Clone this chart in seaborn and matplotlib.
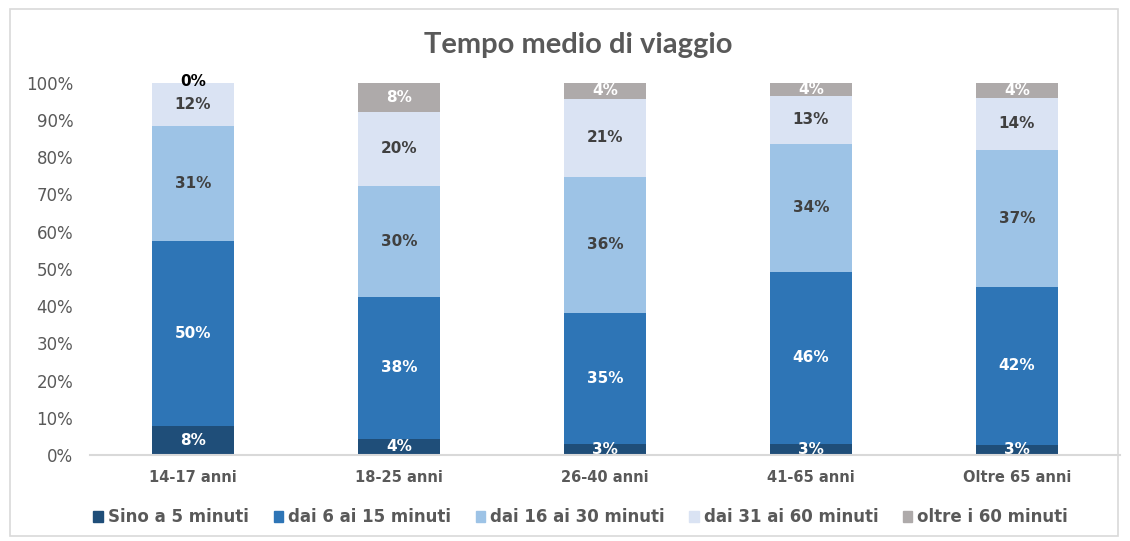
import numpy as np
import pandas as pd
import matplotlib
matplotlib.use("Agg")
import matplotlib.pyplot as plt
import matplotlib.patches as mpatches
import seaborn as sns

# dati (percentuali per fascia d'eta')
gruppi = ["14-17 anni", "18-25 anni", "26-40 anni", "41-65 anni", "Oltre 65 anni"]
fasce = ["Sino a 5 minuti", "dai 6 ai 15 minuti", "dai 16 ai 30 minuti",
         "dai 31 ai 60 minuti", "oltre i 60 minuti"]
sino_5 = [7.8, 4.3, 3.0, 3.0, 2.8]
da_6_15 = [49.7, 38.2, 35.2, 46.2, 42.4]
da_16_30 = [30.9, 29.8, 36.5, 34.4, 36.8]
da_31_60 = [11.6, 19.9, 21.0, 12.9, 14.0]
oltre_60 = [0.0, 7.8, 4.3, 3.5, 4.0]

colori = ["#1F4E79", "#2E75B6", "#9DC3E6", "#DAE3F3", "#AEAAAA"]
col_testo = ["white", "white", "#404040", "#404040", "white"]

df = pd.DataFrame({"gruppo": gruppi, fasce[0]: sino_5, fasce[1]: da_6_15,
                   fasce[2]: da_16_30, fasce[3]: da_31_60, fasce[4]: oltre_60})
cum = df[fasce].cumsum(axis=1)

sns.set_style("white")
plt.rcParams["font.family"] = ["DejaVu Sans"]
fig = plt.figure(figsize=(11.3, 5.41), dpi=100)
ax = fig.add_axes([0.0796, 0.159, 0.9115, 0.688])

# barre sovrapposte dal totale verso il basso -> effetto impilato
for i in range(len(fasce) - 1, -1, -1):
    sns.barplot(x=df["gruppo"], y=cum[fasce[i]], color=colori[i], width=0.4,
                saturation=1, ax=ax, edgecolor="none", linewidth=0, zorder=2)

# etichette dei valori
for j in range(len(gruppi)):
    for i, f in enumerate(fasce):
        v = df.loc[j, f]
        top = cum.loc[j, f]
        if v == 0:
            ax.text(j, top + 0.3, "0%", ha="center", va="center", color="black",
                    fontsize=11, fontweight="bold", clip_on=False, zorder=5)
            continue
        ax.text(j, top - v / 2, f"{v:.0f}%", ha="center", va="center",
                color=col_testo[i], fontsize=11, fontweight="bold", zorder=5)

ax.set_xlim(-0.5, 4.5)
ax.set_ylim(0, 100)
ax.set_yticks(np.arange(0, 101, 10))
ax.set_yticklabels([f"{t}%" for t in range(0, 101, 10)])
ax.set_xlabel("")
ax.set_ylabel("")
ax.tick_params(axis="y", length=0, pad=12, labelsize=12, labelcolor="#595959")
ax.tick_params(axis="x", length=0, pad=11, labelsize=10.5, labelcolor="#595959")
for lab in ax.get_xticklabels():
    lab.set_fontweight("bold")
for s in ["top", "right", "left"]:
    ax.spines[s].set_visible(False)
ax.spines["bottom"].set_color("#D9D9D9")
ax.spines["bottom"].set_linewidth(1.5)
ax.spines["bottom"].set_zorder(6)

fig.text(0.512, 0.917, "Tempo medio di viaggio", ha="center", va="center",
         fontsize=21, fontweight="bold", color="#595959", family="Lato")

handles = [mpatches.Patch(color=c, label=f) for c, f in zip(colori, fasce)]
leg = fig.legend(handles=handles, loc="center", bbox_to_anchor=(0.514, 0.044),
                 ncol=5, frameon=False, handlelength=0.55, handleheight=0.65,
                 handletextpad=0.3, columnspacing=1.5,
                 prop={"size": 12, "weight": "bold"})
for t in leg.get_texts():
    t.set_color("#595959")

# cornice esterna del grafico
fig.patches.append(mpatches.Rectangle((10 / 1130, 5 / 541), 1108 / 1130, 527 / 541,
                                      transform=fig.transFigure, fill=False,
                                      edgecolor="#D9D9D9", linewidth=1.2))

fig.savefig("out.png", dpi=100)
